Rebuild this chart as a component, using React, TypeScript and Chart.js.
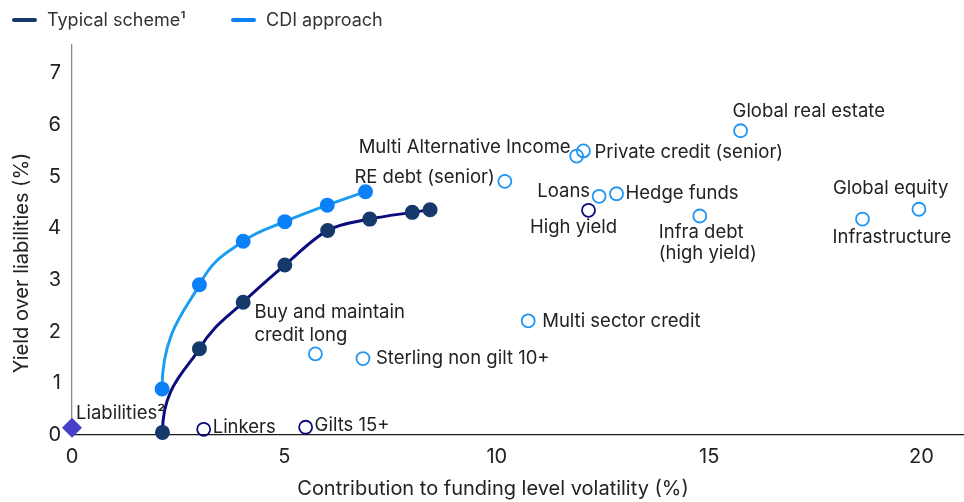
import React, { useEffect, useRef } from "react";
import { Chart, registerables } from "chart.js";

Chart.register(...registerables);

const FONT = "Inter, 'Open Sans', sans-serif";
const TEXT = "#222222";

// Efficient frontiers
const typicalVol = [2.13, 3.0, 4.03, 5.01, 6.02, 7.01, 8.01, 8.43];
const typicalYield = [0.05, 1.67, 2.57, 3.29, 3.96, 4.18, 4.31, 4.36];
const cdiVol = [2.12, 3.0, 4.03, 5.01, 6.01, 6.91];
const cdiYield = [0.89, 2.91, 3.75, 4.13, 4.45, 4.71];

// Asset classes (light blue open circles)
const assetNames = [
  "Buy and maintain\ncredit long",
  "Sterling non gilt 10+",
  "Multi sector credit",
  "RE debt (senior)",
  "Multi Alternative Income",
  "Private credit (senior)",
  "Loans",
  "Hedge funds",
  "Infra debt\n(high yield)",
  "Global real estate",
  "Infrastructure",
  "Global equity",
];
const assetVol = [5.73, 6.85, 10.74, 10.19, 11.88, 12.04, 12.41, 12.82, 14.78, 15.74, 18.61, 19.94];
const assetYield = [1.57, 1.48, 2.21, 4.91, 5.4, 5.5, 4.62, 4.67, 4.24, 5.89, 4.18, 4.37];

// Typical scheme holdings (navy open circles)
const holdingNames = ["Linkers", "Gilts 15+", "High yield"];
const holdingVol = [3.1, 5.5, 12.16];
const holdingYield = [0.11, 0.15, 4.35];

// Liabilities
const liabilityNames = ["Liabilities\u00B2"];
const liabilityVol = [0];
const liabilityYield = [0.14];

const legendLabels = ["Typical scheme\u00B9", "CDI approach"];
const xTickValues = [0, 5, 10, 15, 20];
const yTickValues = [0, 1, 2, 3, 4, 5, 6, 7];
const xTitle = "Contribution to funding level volatility (%)";
const yTitle = "Yield over liabilities (%)";

// label placement (style): text alignment and offset from the marker, in px
const labelPlacement: Record<string, { align: CanvasTextAlign; dx: number; dy: number; lh?: number }> = {
  "Buy and maintain\ncredit long": { align: "left", dx: -61, dy: -41, lh: 23 },
  "Sterling non gilt 10+": { align: "left", dx: 13, dy: 0 },
  "Multi sector credit": { align: "left", dx: 14, dy: 1 },
  "RE debt (senior)": { align: "right", dx: -10, dy: -4 },
  "Multi Alternative Income": { align: "right", dx: -6, dy: -9 },
  "Private credit (senior)": { align: "left", dx: 11, dy: 2 },
  Loans: { align: "right", dx: -9, dy: -5 },
  "Hedge funds": { align: "left", dx: 9, dy: 0 },
  "Infra debt\n(high yield)": { align: "left", dx: -41, dy: 16, lh: 21 },
  "Global real estate": { align: "left", dx: -8, dy: -19 },
  Infrastructure: { align: "left", dx: -30, dy: 18 },
  "Global equity": { align: "left", dx: -86, dy: -21 },
  Linkers: { align: "left", dx: 9, dy: -2 },
  "Gilts 15+": { align: "left", dx: 9, dy: -2 },
  "High yield": { align: "center", dx: -15, dy: 17 },
  "Liabilities\u00B2": { align: "left", dx: 4, dy: -14 },
};

const NAVY_LINE = "#0b0b7e";
const NAVY_POINT = "#15396a";
const BLUE_LINE = "#1c9ef0";
const BLUE_POINT = "#0c80f6";
const BLUE_OPEN = "#2196f3";
const PURPLE = "#4a3fca";

const toPts = (xs: number[], ys: number[]) => xs.map((x, i) => ({ x, y: ys[i] }));

const curvePlugin = {
  id: "verticalStart",
  beforeDatasetDraw(chart: any, args: any) {
    if (args.index > 1) return;
    const meta = args.meta;
    const line = meta.dataset;
    if (!line || typeof line.updateControlPoints !== "function") return;
    line.updateControlPoints(chart.chartArea, "x");
    const pts = meta.data;
    if (!pts || pts.length < 2) return;
    const p0 = pts[0];
    const p1 = pts[1];
    p0.cp2x = p0.x;
    p0.cp2y = p0.y + (p1.y - p0.y) * 0.55;
  },
};

const textPlugin = {
  id: "texts",
  afterDraw(chart: any) {
    const ctx = chart.ctx as CanvasRenderingContext2D;
    const xs = chart.scales.x;
    const ys = chart.scales.y;
    ctx.save();
    // point labels
    ctx.font = `18.5px ${FONT}`;
    ctx.fillStyle = TEXT;
    ctx.textBaseline = "middle";
    const drawGroup = (names: string[], vols: number[], yields: number[]) => {
      names.forEach((name, i) => {
        const p = labelPlacement[name];
        if (!p) return;
        const px = xs.getPixelForValue(vols[i]);
        const py = ys.getPixelForValue(yields[i]);
        ctx.textAlign = p.align;
        const lines = name.split("\n");
        lines.forEach((ln, k) => {
          ctx.fillText(ln, px + p.dx, py + p.dy + k * (p.lh || 22));
        });
      });
    };
    drawGroup(assetNames, assetVol, assetYield);
    drawGroup(holdingNames, holdingVol, holdingYield);
    drawGroup(liabilityNames, liabilityVol, liabilityYield);

    // legend
    const legendColors = [NAVY_POINT, BLUE_POINT];
    const legendX = [12, 231];
    ctx.font = `18px ${FONT}`;
    ctx.textAlign = "left";
    legendLabels.forEach((lab, i) => {
      ctx.strokeStyle = legendColors[i];
      ctx.lineWidth = 4;
      ctx.lineCap = "round";
      ctx.beginPath();
      ctx.moveTo(legendX[i] + 2, 20);
      ctx.lineTo(legendX[i] + 23, 20);
      ctx.stroke();
      ctx.fillStyle = "#333";
      ctx.fillText(lab, legendX[i] + 35, 21);
    });

    // axis titles
    ctx.fillStyle = TEXT;
    ctx.font = `20px ${FONT}`;
    ctx.textAlign = "center";
    ctx.fillText(xTitle, 493, 489);
    ctx.translate(22, 263);
    ctx.rotate(-Math.PI / 2);
    ctx.fillText(yTitle, 0, 0);
    ctx.restore();
  },
};

export default function App() {
  const ref = useRef<HTMLCanvasElement | null>(null);
  useEffect(() => {
    document.body.style.margin = "0";
    const canvas = ref.current;
    if (!canvas) return;
    const chart = new Chart(canvas, {
      type: "scatter",
      data: {
        datasets: [
          {
            type: "line",
            label: legendLabels[0],
            data: toPts(typicalVol, typicalYield),
            borderColor: NAVY_LINE,
            backgroundColor: NAVY_POINT,
            pointBackgroundColor: NAVY_POINT,
            pointBorderColor: NAVY_POINT,
            pointRadius: 6,
            borderWidth: 3,
            cubicInterpolationMode: "monotone",
            clip: false,
            order: 2,
          } as any,
          {
            type: "line",
            label: legendLabels[1],
            data: toPts(cdiVol, cdiYield),
            borderColor: BLUE_LINE,
            backgroundColor: BLUE_POINT,
            pointBackgroundColor: BLUE_POINT,
            pointBorderColor: BLUE_POINT,
            pointRadius: 6,
            borderWidth: 3,
            cubicInterpolationMode: "monotone",
            clip: false,
            order: 1,
          } as any,
          {
            label: "Asset classes",
            data: toPts(assetVol, assetYield),
            pointRadius: 6.5,
            pointBorderWidth: 1.8,
            pointBorderColor: BLUE_OPEN,
            pointBackgroundColor: "rgba(255,255,255,0)",
            clip: false,
          } as any,
          {
            label: "Holdings",
            data: toPts(holdingVol, holdingYield),
            pointRadius: 6.5,
            pointBorderWidth: 1.8,
            pointBorderColor: NAVY_LINE,
            pointBackgroundColor: "rgba(255,255,255,0)",
            clip: false,
          } as any,
          {
            label: "Liabilities",
            data: toPts(liabilityVol, liabilityYield),
            pointStyle: "rectRot",
            pointRadius: 10,
            pointBorderWidth: 0,
            pointBackgroundColor: PURPLE,
            pointBorderColor: PURPLE,
            clip: false,
          } as any,
        ],
      },
      options: {
        animation: false,
        responsive: false,
        devicePixelRatio: 1,
        layout: { autoPadding: false, padding: { top: 45, left: 0, right: 0, bottom: 0 } },
        plugins: {
          legend: { display: false },
          tooltip: { enabled: false },
        },
        events: [],
        scales: {
          x: {
            type: "linear",
            min: 0,
            max: 21,
            grid: { display: false, drawTicks: false },
            border: { display: true, color: "#1a1a1a", width: 1.3 },
            afterBuildTicks: (s: any) => {
              s.ticks = xTickValues.map((v) => ({ value: v }));
            },
            afterFit: (s: any) => {
              s.height = 67;
              s.paddingLeft = 0;
              s.paddingRight = 0;
            },
            ticks: {
              color: TEXT,
              font: { family: FONT, size: 20 },
              padding: 10,
            },
          },
          y: {
            type: "linear",
            min: 0,
            max: 7.55,
            grid: { display: false, drawTicks: false },
            border: { display: true, color: "#8a8a8a", width: 1.3 },
            afterBuildTicks: (s: any) => {
              s.ticks = yTickValues.map((v) => ({ value: v }));
            },
            afterFit: (s: any) => {
              s.width = 72;
              s.paddingTop = 0;
              s.paddingBottom = 0;
            },
            ticks: {
              color: TEXT,
              font: { family: FONT, size: 20 },
              padding: 11,
            },
          },
        },
      },
      plugins: [curvePlugin, textPlugin],
    });
    return () => chart.destroy();
  }, []);
  return (
    <div style={{ width: 964, height: 502 }}>
      <canvas ref={ref} width={964} height={502} style={{ display: "block" }} />
    </div>
  );
}
